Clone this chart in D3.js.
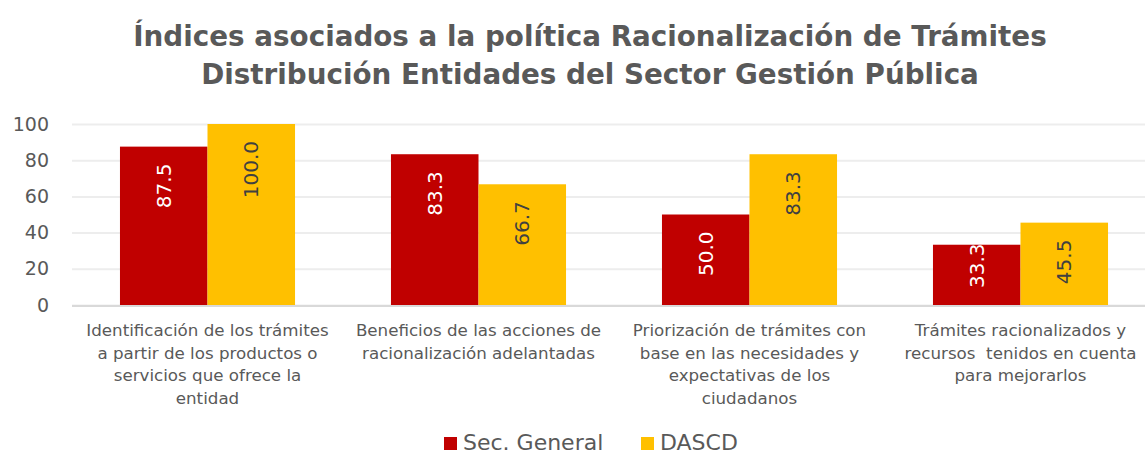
<!DOCTYPE html>
<html>
<head>
<meta charset="utf-8">
<script src="https://cdn.jsdelivr.net/npm/d3@7"></script>
<style>
  body { margin: 0; background: #fff; }
  svg { display: block; font-family: "DejaVu Sans", sans-serif; }
  text.cat { white-space: pre; }
</style>
</head>
<body>
<svg id="chart" width="1145" height="455"></svg>
<script>
// data
var categories = [
    ['Identificación de los trámites', 'a partir de los productos o', 'servicios que ofrece la', 'entidad'],
    ['Beneficios de las acciones de', 'racionalización adelantadas'],
    ['Priorización de trámites con', 'base en las necesidades y', 'expectativas de los', 'ciudadanos'],
    ['Trámites racionalizados y', 'recursos  tenidos en cuenta', 'para mejorarlos']
];
var seriesNames = ['Sec. General', 'DASCD'];
var secGeneral = [87.5, 83.3, 50.0, 33.3];
var dascd = [100.0, 66.7, 83.3, 45.5];
var yTicks = [0, 20, 40, 60, 80, 100];
var titleLines = ['Índices asociados a la política Racionalización de Trámites',
                  'Distribución Entidades del Sector Gestión Pública'];

var colors = ['#C00000', '#FFC000'],
    labelColors = ['#FFFFFF', '#404040'],
    textGray = '#595959';

var svg = d3.select('#chart');
var margin = {left: 72, right: -11},
    W = 1145;

var x0 = d3.scaleBand()
    .domain(d3.range(categories.length))
    .range([margin.left, W - margin.right])
    .paddingInner(0.354)
    .paddingOuter(0.177);
var x1 = d3.scaleBand().domain([0, 1]).range([0, x0.bandwidth()]);
var y = d3.scaleLinear().domain([0, 100]).range([305, 124]);

// title
var title = svg.append('g').attr('fill', textGray).attr('font-weight', 'bold').attr('text-anchor', 'middle');
title.selectAll('text').data(titleLines).enter().append('text')
    .attr('x', 590)
    .attr('y', function(d, i) { return 46 + i * 37.5; })
    .attr('font-size', 30)
    .text(function(d) { return d; });
// fit first line to the width seen in the picture
var t0 = title.select('text').node().getComputedTextLength();
title.selectAll('text').attr('font-size', 30 * 914 / t0);

// grid
var grid = d3.axisLeft(y).tickValues(yTicks).tickSize(-(W - margin.left)).tickFormat('');
svg.append('g').attr('transform', 'translate(' + margin.left + ',0)').call(grid)
    .call(function(g) {
        g.select('.domain').remove();
        g.selectAll('line').attr('stroke', '#EDEDED').attr('stroke-width', 2);
    });
svg.append('line').attr('x1', margin.left).attr('x2', W).attr('y1', y(0) + 1).attr('y2', y(0) + 1)
    .attr('stroke', '#D9D9D9').attr('stroke-width', 2);

// y axis labels
var yAxis = d3.axisLeft(y).tickValues(yTicks).tickSize(0).tickPadding(0);
svg.append('g').attr('transform', 'translate(49,0)').call(yAxis)
    .call(function(g) {
        g.select('.domain').remove();
        g.selectAll('text').attr('fill', textGray).attr('font-size', 19).attr('font-family', '"DejaVu Sans", sans-serif');
    });

// bars
var data = categories.map(function(c, i) { return [secGeneral[i], dascd[i]]; });
var groups = svg.selectAll('g.grp').data(data).enter().append('g')
    .attr('class', 'grp')
    .attr('transform', function(d, i) { return 'translate(' + x0(i) + ',0)'; });

groups.selectAll('rect').data(function(d) { return d; }).enter().append('rect')
    .attr('x', function(d, j) { return x1(j); })
    .attr('y', function(d) { return y(d); })
    .attr('width', x1.bandwidth())
    .attr('height', function(d) { return y(0) - y(d); })
    .attr('fill', function(d, j) { return colors[j]; });

groups.selectAll('text.val').data(function(d) { return d; }).enter().append('text')
    .attr('class', 'val')
    .attr('font-size', 20)
    .attr('fill', function(d, j) { return labelColors[j]; })
    .attr('text-anchor', 'end')
    .text(function(d) { return d3.format('.1f')(d); })
    .each(function(d, j) {
        var len = this.getComputedTextLength();
        var endY = Math.min(y(d) + 17, y(0) - 17 - len);
        var cx = x1(j) + x1.bandwidth() / 2 + 7;
        d3.select(this).attr('transform', 'translate(' + cx + ',' + endY + ') rotate(-90)');
    });

// category labels
svg.selectAll('text.cat').data(categories).enter().append('text')
    .attr('class', 'cat')
    .attr('text-anchor', 'middle')
    .attr('fill', textGray)
    .attr('font-size', 16.7)
    .each(function(lines, i) {
        d3.select(this).selectAll('tspan').data(lines).enter().append('tspan')
            .attr('x', x0(i) + x0.bandwidth() / 2)
            .attr('y', function(d, k) { return 336 + k * 22.5; })
            .text(function(d) { return d; });
    });

// legend
var legend = svg.append('g').attr('font-size', 22).attr('fill', textGray);
var legX = [444, 641];
seriesNames.forEach(function(name, j) {
    legend.append('rect').attr('x', legX[j]).attr('y', 437).attr('width', 13).attr('height', 13).attr('fill', colors[j]);
    legend.append('text').attr('x', legX[j] + 19).attr('y', 450).text(name);
});
</script>
</body>
</html>
